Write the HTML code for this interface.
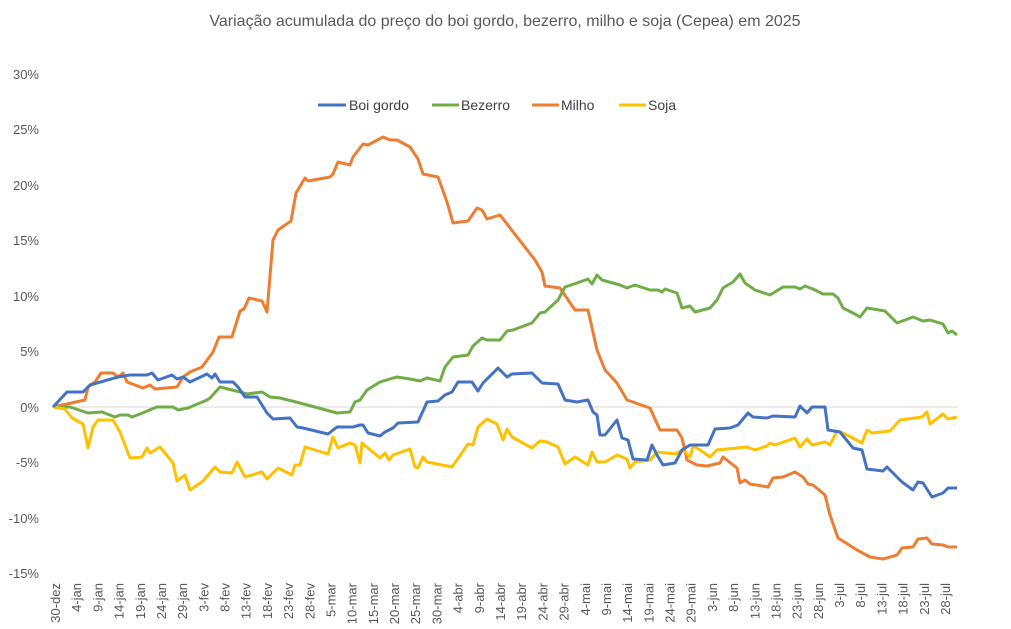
<!DOCTYPE html>
<html><head><meta charset="utf-8"><style>body{margin:0;background:#fff}svg{display:block}</style></head><body>
<svg width="1011" height="629" viewBox="0 0 1011 629" xmlns="http://www.w3.org/2000/svg" font-family="Liberation Sans, sans-serif">
<rect width="1011" height="629" fill="#fff"/>
<text x="505" y="26" text-anchor="middle" font-size="16" fill="#595959">Variação acumulada do preço do boi gordo, bezerro, milho e soja (Cepea) em 2025</text>
<g font-size="13" fill="#595959" text-anchor="end">
<text x="39" y="79">30%</text><text x="39" y="134">25%</text><text x="39" y="190">20%</text><text x="39" y="245">15%</text><text x="39" y="301">10%</text><text x="39" y="356">5%</text><text x="39" y="412">0%</text><text x="39" y="467">-5%</text><text x="39" y="523">-10%</text><text x="39" y="578">-15%</text>
</g>
<line x1="53" y1="407" x2="958" y2="407" stroke="#d9d9d9" stroke-width="1"/>
<g font-size="13" fill="#595959" text-anchor="end" id="xl"></g>
<g fill="none" stroke-width="3" stroke-linejoin="round">
<polyline stroke="#ED7D31" points="53,407 85,400 88,387 95,382 101,373 113,373 118,377 123,373 127,382 143,388 150,385 155,389 177,387 183,377 190,372 202,367 213,352 219,337 232,337 240,311 244,309 249,298 262,301 267,312 273,240 278,230 291,221 296,193 305,178 308,181 330,177 333,174 338,162 350,165 353,157 363,144 368,145 383,137 390,140 397,140 410,147 418,159 423,174 438,177 447,202 453,223 468,221 477,208 482,210 487,219 500,215 535,260 542,272 545,286 560,288 575,310 588,310 597,350 605,370 617,383 627,400 650,408 660,430 677,430 682,438 687,460 697,465 707,466 720,463 723,457 737,468 740,483 745,480 750,484 768,487 773,478 783,477 795,472 803,477 808,484 813,485 825,495 830,515 838,538 857,550 870,557 883,559 897,555 902,548 913,547 918,539 927,538 932,544 943,545 948,547 957,547"/>
<polyline stroke="#70AD47" points="53,407 70,407 88,413 102,412 115,417 120,415 128,415 132,417 140,414 152,409 157,407 173,407 178,410 188,408 207,400 210,398 220,387 240,392 247,394 262,392 270,397 280,398 300,403 337,413 350,412 355,402 360,400 367,390 380,382 390,379 397,377 410,379 420,381 427,378 440,381 445,367 453,357 468,355 473,346 482,338 487,340 500,340 507,331 513,330 532,323 540,313 545,312 558,300 565,287 577,283 588,279 592,284 597,275 602,280 620,285 627,288 635,285 650,290 658,290 662,292 665,289 677,293 682,308 690,306 695,312 710,308 717,300 723,288 733,282 740,274 745,283 755,290 770,295 783,287 795,287 800,289 805,286 813,289 823,294 833,294 838,298 843,308 853,313 860,317 867,308 885,311 897,323 913,317 923,321 930,320 943,324 948,333 952,331 957,335"/>
<polyline stroke="#FFC000" points="53,407 65,409 72,418 83,424 88,448 93,427 98,420 113,420 120,432 130,458 142,457 147,448 150,453 160,447 173,463 177,481 185,475 190,490 203,481 215,467 220,472 232,473 237,462 245,477 262,472 267,479 278,468 292,475 295,465 300,465 305,447 328,454 333,437 338,448 350,443 355,445 360,463 362,443 380,458 385,453 389,460 393,455 410,449 415,467 418,468 423,457 427,462 452,467 468,444 473,445 478,427 487,419 497,424 503,440 507,429 512,437 532,448 540,441 547,442 558,447 565,464 575,457 588,465 592,452 597,462 605,462 617,455 627,459 630,468 635,462 650,460 657,452 675,454 683,450 690,457 693,446 700,450 710,457 717,450 747,447 755,450 767,446 770,443 775,445 795,438 800,447 807,439 812,445 825,442 830,445 837,431 843,433 862,443 867,430 872,433 890,431 900,420 922,417 927,412 930,424 943,414 948,419 957,417"/>
<polyline stroke="#4472C4" points="53,407 67,392 83,392 90,385 118,377 130,375 147,375 152,373 158,380 172,375 177,379 183,377 190,382 207,374 212,378 215,374 220,382 233,382 238,387 245,397 257,397 267,413 273,419 290,418 297,427 303,428 328,434 337,427 353,427 360,425 363,425 368,433 380,436 385,432 393,428 398,423 418,422 427,402 438,401 445,395 452,392 458,382 472,382 478,391 483,383 498,368 507,377 512,374 532,373 542,383 558,384 565,400 577,402 588,400 593,412 597,415 600,435 605,435 617,420 622,438 628,440 633,459 647,460 652,445 657,455 663,465 675,463 682,450 690,445 708,445 715,429 730,428 738,425 748,413 753,417 767,418 773,416 795,417 800,406 807,413 812,407 825,407 828,430 840,432 853,448 862,450 867,469 883,471 887,467 893,473 902,482 913,490 918,482 923,483 932,497 943,493 948,488 957,488"/>
</g>
<g font-size="14" fill="#404040">
<line x1="318" y1="105" x2="346" y2="105" stroke="#4472C4" stroke-width="3"/><text x="349" y="110">Boi gordo</text>
<line x1="432" y1="105" x2="459" y2="105" stroke="#70AD47" stroke-width="3"/><text x="461" y="110">Bezerro</text>
<line x1="532" y1="105" x2="559" y2="105" stroke="#ED7D31" stroke-width="3"/><text x="561" y="110">Milho</text>
<line x1="619" y1="105" x2="646" y2="105" stroke="#FFC000" stroke-width="3"/><text x="648" y="110">Soja</text>
</g>
<g font-size="13" fill="#595959" text-anchor="end">
<text transform="translate(60,583) rotate(-90)">30-dez</text>
<text transform="translate(81.2,583) rotate(-90)">4-jan</text>
<text transform="translate(102.4,583) rotate(-90)">9-jan</text>
<text transform="translate(123.6,583) rotate(-90)">14-jan</text>
<text transform="translate(144.8,583) rotate(-90)">19-jan</text>
<text transform="translate(166,583) rotate(-90)">24-jan</text>
<text transform="translate(187.1,583) rotate(-90)">29-jan</text>
<text transform="translate(208.3,583) rotate(-90)">3-fev</text>
<text transform="translate(229.5,583) rotate(-90)">8-fev</text>
<text transform="translate(250.7,583) rotate(-90)">13-fev</text>
<text transform="translate(271.9,583) rotate(-90)">18-fev</text>
<text transform="translate(293.1,583) rotate(-90)">23-fev</text>
<text transform="translate(314.3,583) rotate(-90)">28-fev</text>
<text transform="translate(335.5,583) rotate(-90)">5-mar</text>
<text transform="translate(356.7,583) rotate(-90)">10-mar</text>
<text transform="translate(377.9,583) rotate(-90)">15-mar</text>
<text transform="translate(399.1,583) rotate(-90)">20-mar</text>
<text transform="translate(420.2,583) rotate(-90)">25-mar</text>
<text transform="translate(441.4,583) rotate(-90)">30-mar</text>
<text transform="translate(462.6,583) rotate(-90)">4-abr</text>
<text transform="translate(483.8,583) rotate(-90)">9-abr</text>
<text transform="translate(505,583) rotate(-90)">14-abr</text>
<text transform="translate(526.2,583) rotate(-90)">19-abr</text>
<text transform="translate(547.4,583) rotate(-90)">24-abr</text>
<text transform="translate(568.6,583) rotate(-90)">29-abr</text>
<text transform="translate(589.8,583) rotate(-90)">4-mai</text>
<text transform="translate(611,583) rotate(-90)">9-mai</text>
<text transform="translate(632.1,583) rotate(-90)">14-mai</text>
<text transform="translate(653.3,583) rotate(-90)">19-mai</text>
<text transform="translate(674.5,583) rotate(-90)">24-mai</text>
<text transform="translate(695.7,583) rotate(-90)">29-mai</text>
<text transform="translate(716.9,583) rotate(-90)">3-jun</text>
<text transform="translate(738.1,583) rotate(-90)">8-jun</text>
<text transform="translate(759.3,583) rotate(-90)">13-jun</text>
<text transform="translate(780.5,583) rotate(-90)">18-jun</text>
<text transform="translate(801.7,583) rotate(-90)">23-jun</text>
<text transform="translate(822.9,583) rotate(-90)">28-jun</text>
<text transform="translate(844,583) rotate(-90)">3-jul</text>
<text transform="translate(865.2,583) rotate(-90)">8-jul</text>
<text transform="translate(886.4,583) rotate(-90)">13-jul</text>
<text transform="translate(907.6,583) rotate(-90)">18-jul</text>
<text transform="translate(928.8,583) rotate(-90)">23-jul</text>
<text transform="translate(950,583) rotate(-90)">28-jul</text>
</g>
</svg>
</body></html>
